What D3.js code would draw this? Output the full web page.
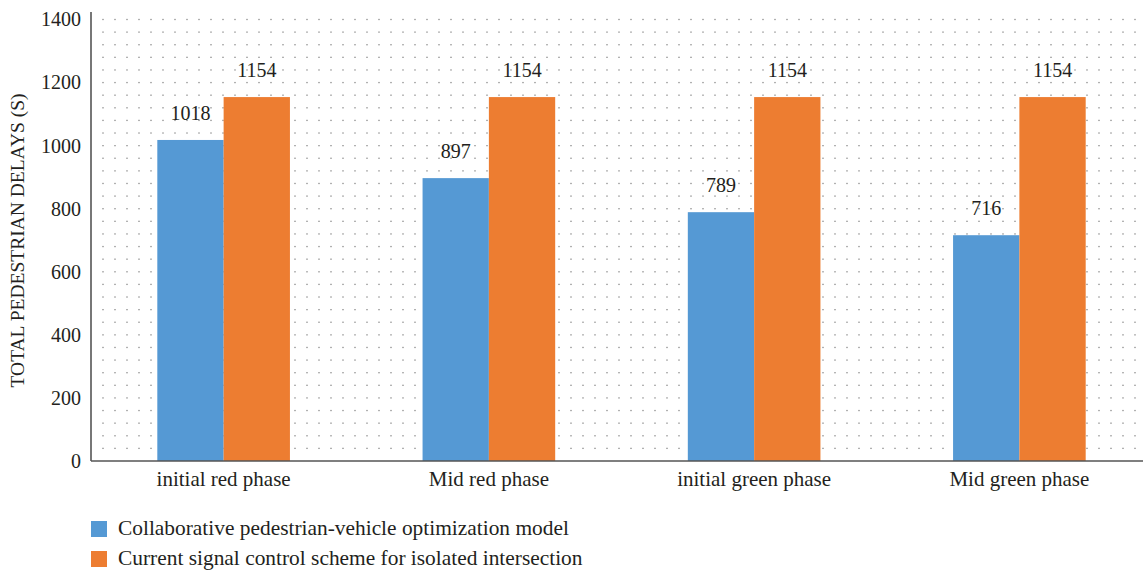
<!DOCTYPE html>
<html>
<head>
<meta charset="utf-8">
<script src="https://cdn.jsdelivr.net/npm/d3@7"></script>
<style>
  html, body { margin: 0; padding: 0; background: #fff; }
  svg { display: block; }
  text { font-family: "Liberation Serif", "DejaVu Serif", serif; fill: #231f20; }
</style>
</head>
<body>
<svg id="chart" width="1143" height="570"></svg>
<script>
// Pedestrian delay per signal phase, two control schemes
const categories = ["initial red phase", "Mid red phase", "initial green phase", "Mid green phase"];
const seriesNames = [
  "Collaborative pedestrian-vehicle optimization model",
  "Current signal control scheme for isolated intersection"
];
const collaborativeValues = [1018, 897, 789, 716];
const currentValues = [1154, 1154, 1154, 1154];
const yTicks = [0, 200, 400, 600, 800, 1000, 1200, 1400];
const colors = ["#5599d4", "#ed7d31"];

const svg = d3.select("#chart");
const margin = { left: 91, top: 19.5, bottom: 109, plotRight: 1152 };
const height = 570;
const serif = "Liberation Serif, DejaVu Serif, serif";

const x0 = d3.scaleBand()
  .domain(categories)
  .range([margin.left, margin.plotRight])
  .paddingInner(0.5)
  .paddingOuter(0.25);
const x1 = d3.scaleBand()
  .domain([0, 1])
  .range([0, x0.bandwidth()]);
const y = d3.scaleLinear()
  .domain([0, 1400])
  .range([height - margin.bottom, margin.top]);

// dotted background grid
const dotsG = svg.append("g");
const dotRows = d3.range(40, 1401, 40);
const dotCols = d3.range(103, 1143, 12);
dotRows.forEach(v => {
  dotCols.forEach(cx => {
    dotsG.append("rect")
      .attr("x", cx - 0.65).attr("y", y(v) - 0.65)
      .attr("width", 1.3).attr("height", 1.3)
      .attr("fill", "#888");
  });
});

// bars
const data = categories.map((c, i) => ({ cat: c, vals: [collaborativeValues[i], currentValues[i]] }));
const groups = svg.append("g").selectAll("g").data(data).join("g")
  .attr("transform", d => `translate(${x0(d.cat)},0)`);
groups.selectAll("rect").data(d => d.vals).join("rect")
  .attr("x", (d, i) => x1(i))
  .attr("y", d => y(d))
  .attr("width", x1.bandwidth())
  .attr("height", d => y(0) - y(d))
  .attr("fill", (d, i) => colors[i]);
groups.selectAll("text.val").data(d => d.vals).join("text")
  .attr("class", "val")
  .attr("x", (d, i) => x1(i) + x1.bandwidth() / 2)
  .attr("y", d => y(d) - 20)
  .attr("text-anchor", "middle")
  .attr("font-size", 20)
  .text(d => d);

// y axis
const yAxis = svg.append("g")
  .attr("transform", `translate(${margin.left},0)`)
  .call(d3.axisLeft(y).tickValues(yTicks).tickFormat(d3.format("d")).tickSize(0).tickPadding(10));
yAxis.attr("font-family", serif).attr("font-size", 20);
yAxis.select(".domain").attr("stroke", "#555").attr("stroke-width", 1.6)
  .attr("d", `M0,${12}V${y(0)}`);
yAxis.selectAll("text").attr("fill", "#231f20");

// x axis
const xAxis = svg.append("g")
  .attr("transform", `translate(0,${y(0)})`)
  .call(d3.axisBottom(x0).tickSize(0).tickPadding(10));
xAxis.attr("font-family", serif).attr("font-size", 21);
xAxis.select(".domain").attr("stroke", "#555").attr("stroke-width", 1.6)
  .attr("d", `M${margin.left},0H1143`);
xAxis.selectAll("text").attr("fill", "#231f20");

// y axis title
svg.append("text")
  .attr("transform", `translate(24,${(y(0) + 12) / 2 + 4}) rotate(-90)`)
  .attr("text-anchor", "middle")
  .attr("font-size", 19.5)
  .text("TOTAL PEDESTRIAN DELAYS (S)");

// legend
const legend = svg.append("g").attr("transform", "translate(91,521)");
seriesNames.forEach((name, i) => {
  const g = legend.append("g").attr("transform", `translate(0,${i * 30})`);
  g.append("rect").attr("width", 16).attr("height", 16).attr("fill", colors[i]);
  g.append("text").attr("x", 27).attr("y", 14).attr("font-size", 21.4).text(name);
});
</script>
</body>
</html>
